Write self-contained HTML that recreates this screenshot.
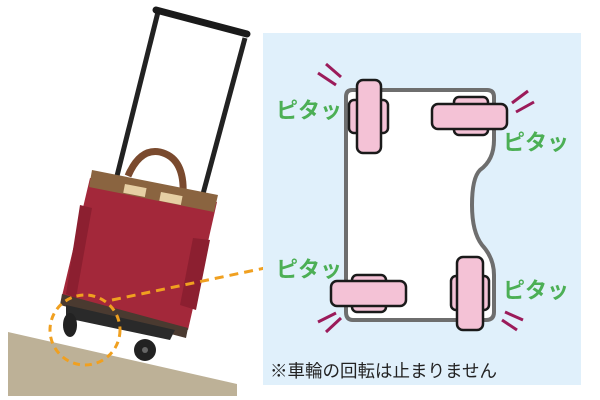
<!DOCTYPE html>
<html><head><meta charset="utf-8"><style>
html,body{margin:0;padding:0;background:#fff;}
svg{display:block}
</style></head><body>
<svg width="600" height="400" viewBox="0 0 600 400" xmlns="http://www.w3.org/2000/svg">
<rect x="0" y="0" width="600" height="400" fill="#fff"/>
<polygon points="8,332 237,384 237,396 8,396" fill="#bdb197"/>
<line x1="158" y1="12" x2="116" y2="180" stroke="#222" stroke-width="5"/>
<line x1="245" y1="38" x2="200" y2="205" stroke="#222" stroke-width="5"/>
<line x1="156" y1="10" x2="247" y2="34" stroke="#1a1a1a" stroke-width="7" stroke-linecap="round"/>
<path d="M128,176 Q140,148 160,152 Q185,158 183,195" fill="none" stroke="#7a4a2e" stroke-width="7"/>
<polygon points="90,178 217,202 188,330 62,296" fill="#a3283a"/>
<polygon points="92,170 218,195 214,212 89,187" fill="#8a6440"/>
<rect x="124" y="186" width="22" height="9" fill="#e6cfa4" transform="rotate(11 135 190)"/>
<rect x="160" y="194" width="22" height="9" fill="#e6cfa4" transform="rotate(11 171 198)"/>
<polygon points="80,205 92,208 76,298 66,294" fill="#8c1f30"/>
<polygon points="193,238 210,240 196,310 180,305" fill="#8c1f30"/>
<polygon points="62,294 188,328 186,338 60,305" fill="#4a3a30"/>
<polygon points="66,305 175,330 170,340 66,318" fill="#2a2a2a"/>
<ellipse cx="70" cy="325" rx="7" ry="12" fill="#222"/>
<ellipse cx="145" cy="350" rx="11" ry="11" fill="#222"/>
<circle cx="145" cy="350" r="3" fill="#666"/>
<circle cx="85" cy="330" r="35" fill="none" stroke="#f0a020" stroke-width="3" stroke-dasharray="7,5"/>
<line x1="112" y1="300" x2="265" y2="268" stroke="#f0a020" stroke-width="3" stroke-dasharray="9,6"/>
<rect x="263" y="33" width="318" height="352" fill="#e0f0fb"/>
<path d="M352,90 L487,90 Q494,90 494,97 L494,140 Q494,160 480,170 Q472,178 472,205 Q472,232 482,245 Q494,258 494,275 L494,312 Q494,320 486,320 L353,320 Q346,320 346,312 L346,97 Q346,90 352,90 Z" fill="#fff" stroke="#6e6e6e" stroke-width="4"/>
<g fill="#f4c2d6" stroke="#1a1a1a" stroke-width="2.5">
<rect x="349" y="100" width="39" height="33" rx="5"/>
<rect x="357" y="80" width="24" height="73" rx="6"/>
<rect x="454" y="97" width="34" height="38" rx="5"/>
<rect x="432" y="104" width="75" height="25" rx="6"/>
<rect x="352" y="275" width="34" height="37" rx="5"/>
<rect x="331" y="281" width="75" height="25" rx="6"/>
<rect x="451" y="276" width="38" height="34" rx="5"/>
<rect x="457" y="257" width="26" height="73" rx="6"/>
</g>
<g stroke="#9b1b5a" stroke-width="3">
<line x1="318" y1="73" x2="336" y2="85"/><line x1="326" y1="64" x2="341" y2="77"/>
<line x1="512" y1="103" x2="528" y2="91"/><line x1="516" y1="112" x2="534" y2="102"/>
<line x1="318" y1="322" x2="336" y2="313"/><line x1="326" y1="332" x2="341" y2="318"/>
<line x1="505" y1="312" x2="523" y2="320"/><line x1="502" y1="320" x2="517" y2="330"/>
</g>
<g font-family="Liberation Sans, Noto Sans CJK JP, sans-serif" font-weight="bold" font-size="22" fill="#4caf55">
<text x="276" y="118">ピタッ</text>
<text x="503" y="150">ピタッ</text>
<text x="276" y="277">ピタッ</text>
<text x="503" y="298">ピタッ</text>
</g>
<text x="270" y="377" font-family="Liberation Sans, Noto Sans CJK JP, sans-serif" font-size="17.5" fill="#222">※車輪の回転は止まりません</text>
</svg>
</body></html>
